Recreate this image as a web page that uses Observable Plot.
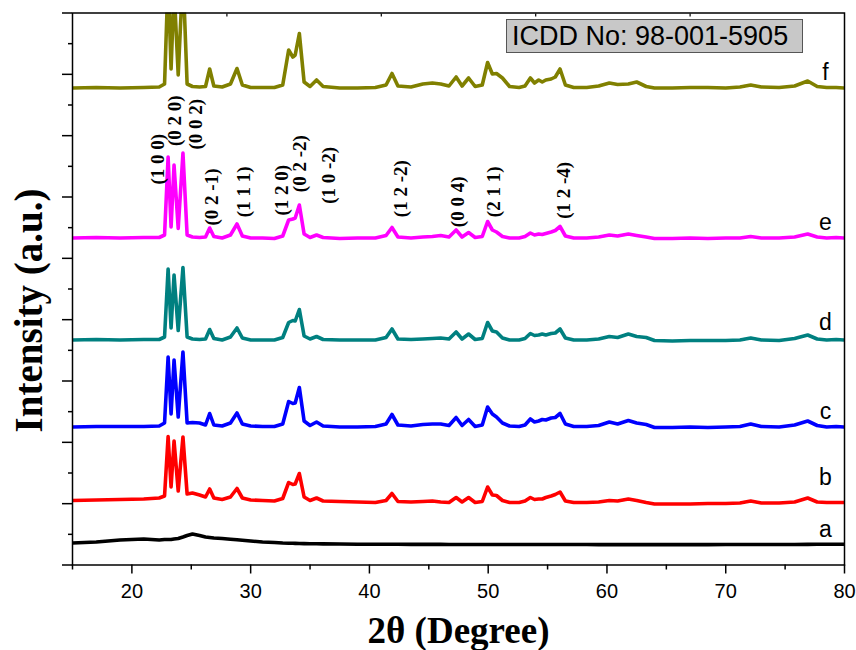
<!DOCTYPE html>
<html><head><meta charset="utf-8">
<script src="https://cdn.jsdelivr.net/npm/d3@7"></script>
<script src="https://cdn.jsdelivr.net/npm/@observablehq/plot@0.6"></script>
<style>
body{margin:0;background:#fff;}
#wrap{position:relative;width:856px;height:650px;}
#icdd{position:absolute;left:506px;top:19px;width:297px;height:34px;box-sizing:border-box;background:#c8c8c8;border:1px solid #555;font-family:"Liberation Sans",Arial,sans-serif;font-size:27px;line-height:32px;padding-left:5px;color:#000;white-space:nowrap;}
</style></head><body>
<div id="wrap"><div id="icdd">ICDD No: 98-001-5905</div></div>
<script>
// 2θ sampling positions (degrees)
const twoTheta = [15,17,19,21,22.3,22.75,23.05,23.3,23.55,23.9,
  24.3,24.65,25.1,25.7,26.2,26.55,26.9,27.6,28.3,28.85,
  29.3,30,31,32,32.7,33.2,33.55,33.75,34.1,34.5,
  35,35.55,36.1,37.5,39,40.5,41.4,41.9,42.4,43.5,
  44.5,45.3,46,46.7,47.3,47.8,48.35,48.9,49.5,49.95,
  50.35,50.7,51.2,51.8,52.6,53.1,53.55,53.9,54.25,54.55,
  54.85,55.3,55.65,56.05,56.5,57.2,58.3,59.3,60.2,60.9,
  61.8,62.5,63.3,64,65.5,67,68.5,70,71.2,72.1,
  73,74.5,75.8,76.9,77.7,78.5,79.3,80];

// Intensities (a.u.) above each pattern's own baseline
const seriesA = [0,1,3,4,3,3.5,3.5,3.5,4,4.5,
  6,7.5,9,7.5,6,5.5,5,4.5,3.8,3.2,
  2.8,2,1,0.5,0,-0.2,-0.3,-0.4,-0.5,-0.6,
  -0.7,-0.8,-0.9,-1,-1.2,-1.3,-1.3,-1.3,-1.3,-1.4,
  -1.4,-1.4,-1.4,-1.5,-1.5,-1.5,-1.5,-1.5,-1.5,-1.5,
  -1.5,-1.5,-1.5,-1.5,-1.5,-1.5,-1.5,-1.5,-1.5,-1.5,
  -1.5,-1.5,-1.5,-1.5,-1.5,-1.5,-1.5,-1.6,-1.6,-1.6,
  -1.6,-1.6,-1.6,-1.6,-1.6,-1.6,-1.6,-1.5,-1.5,-1.5,
  -1.5,-1.5,-1.5,-1.4,-1.3,-1.3,-1.2,-1.2];
const seriesB = [0.5,1,1.5,2,3,5,64.5,14,60,10,
  64,7,8,6,4,12,3,1.5,4,12.5,
  3,1,0.5,0,2.5,18.5,16.5,17,27.5,4,
  0.5,3,0,-0.5,-1,-1.5,0.5,7.5,-0.5,-1,
  -0.5,0,-1,-1.5,3.5,-1,3.5,-1.5,-0.5,14,
  6,5.5,0.5,-1.5,-1.5,0,3.5,1.5,2,2,
  3.5,5,6.5,9,0,-1.5,-1.5,-1,0.5,0,
  2,0.5,-1.5,-3,-3,-3,-2.5,-2.5,-2,0,
  -2,-2,-1,3,-1,-1.5,-1.5,-1.5];
const seriesC = [0,0.5,0.5,0.5,1,4,70,13,67,10,
  75,4,4.5,4,2,13.5,2,1,4,14,
  3,1,0.5,0.5,3,25.5,23.5,24,39.5,6,
  1.5,5,1,0,0,0.5,3,12.5,2,1,
  2.5,3,3,1.5,9.5,1.5,7.5,0.5,2,20,
  13,10,4,1,0.5,2,8,5,6,7.5,
  7,9,9.5,13.5,3,0.5,0.5,1.5,5,3,
  6.5,4,2.5,-0.5,-0.5,0,-0.5,0,0.5,3,
  0.5,0,2,6,1.5,0,0.5,0];
const seriesD = [0,0.5,0,0.5,0.5,3,71,12,65,9.5,
  72.5,3,1,0.5,1,10.5,1.5,0,3,12,
  2,0,0,0,2.5,17.5,19.5,19,30.5,4,
  1,3.5,0.5,0,0,0,2.5,11,1,0.5,
  1,1.5,2,1,8,1,6,0.5,1.5,17.5,
  9,8,2,0,0,1.5,6.5,4.5,5,6,
  5,6.5,7,11,2,0,0,1,3.5,2.5,
  6,3.5,2.5,-0.5,-1,-0.5,-0.5,-0.5,0,2,
  0,-0.5,1.5,5,1,0,0.5,0];
const seriesE = [0,0.5,0,0.5,0.5,3,81,11,73,9.5,
  85,3,1,0.5,1,10,1.5,0,3,14,
  2,0,0,-0.5,2,18,19,20,33,4,
  0.5,3,0.5,-0.5,0,0,2.5,10.5,1,0,
  1,1.5,2.5,1,8,1,5.5,0.5,1.5,16.5,
  8,6,1.5,0,0,1.5,5,3,4,3.5,
  4.5,6,7.5,11.5,2,0,0,1,3,2,
  4,2.5,1,-0.5,-0.5,0,-0.5,0,0,1.5,
  0,0,1,4,1,0,0.5,0];
const seriesF = [0,0.5,0,0.5,1,4,110,19,100,13,
  115,4,1.5,1,1.5,19,2,1,4,19.5,
  3,0.5,0.5,0.5,3,38,31,33,54.5,6,
  1.5,8,1.5,0,0,0.5,3,14.5,2,1,
  4,5,4,2,11,2,10,1.5,3,25.5,
  14,14.5,10,1.5,0.5,2,10,5,8,6,
  8,9,11,19,3,0.5,0.5,2,5,3.5,
  4,6,1.5,0,0,0.5,0.5,0,1,3,
  1,0.5,2,7,1.5,0.5,0.5,0];

const seriesNames = ["a","b","c","d","e","f"];
const seriesValues = [seriesA, seriesB, seriesC, seriesD, seriesE, seriesF];
const seriesOffsets = [22, 64, 138, 225, 327, 477];   // vertical stacking offsets (a.u.)
const seriesLabelY = [35.2, 87.2, 153.5, 242.8, 342.8, 492.5];
const seriesColors = ["#000000","#ff0000","#0000ff","#008080","#ff00ff","#808000"];

// Miller-index annotations (pattern e)
const hklText = ["(1 0 0)","(0 2 0)","(0 0 2)","(0 2 -1)","(1 1 1)","(1 2 0)","(0 2 -2)","(1 0 -2)","(1 2 -2)","(0 0 4)","(2 1 1)","(1 2 -4)"];
const hklX = [22.23,23.61,25.38,26.70,29.39,32.62,34.16,36.60,42.61,47.42,50.45,56.39];
const hklY = [380.5,419,415.5,339.5,347.8,349.5,372.8,361.2,347.8,337.8,347.8,346.2];

const xMajor = [20,30,40,50,60,70,80];
const xMinor = [15,25,35,45,55,65,75];
const xTop = [28,41,54,67];
const yMax = 552;
const yMajor = d3.range(10).map(i => i * yMax / 9);
const yMinor = d3.range(9).map(i => (i + 0.5) * yMax / 9);

const rows = [];
seriesNames.forEach((s, i) => {
  twoTheta.forEach((t, j) => rows.push({s, t, v: seriesValues[i][j] + seriesOffsets[i]}));
});
const labelRows = seriesNames.map((s, i) => ({s, x: 78.4, y: seriesLabelY[i]}));
const hklRows = hklText.map((txt, i) => ({txt, x: hklX[i], y: hklY[i]}));

const sans = "'Liberation Sans', Arial, sans-serif";
const serif = "'Liberation Serif', 'Times New Roman', serif";
const blank = () => "";

const plot = Plot.plot({
  width: 856, height: 650,
  marginLeft: 72, marginRight: 12, marginTop: 12.5, marginBottom: 85.5,
  x: {domain: [15, 80]},
  y: {domain: [0, yMax]},
  color: {domain: seriesNames, range: seriesColors},
  style: {background: "white", fontFamily: sans, color: "black"},
  marks: [
    Plot.axisX(xMajor, {tickSize: 9, tickPadding: 10, fontSize: 20, strokeWidth: 1.5, label: null, fontFamily: sans}),
    Plot.axisX(xMinor, {tickSize: 5, tickFormat: blank, strokeWidth: 1.5, label: null}),
    Plot.axisX(xTop, {anchor: "top", tickSize: -3, tickFormat: blank, strokeWidth: 1.2, label: null}),
    Plot.axisY(yMajor, {tickSize: 10, tickFormat: blank, strokeWidth: 1.5, label: null}),
    Plot.axisY(yMinor, {tickSize: 4, tickFormat: blank, strokeWidth: 1.5, label: null}),
    Plot.line(rows, {x: "t", y: "v", z: "s", stroke: "s", strokeWidth: 3.6, strokeLinejoin: "round", clip: true}),
    Plot.frame({stroke: "black", strokeWidth: 1.5}),
    Plot.text(labelRows, {x: "x", y: "y", text: "s", fontSize: 23, fontFamily: sans, fill: "black"}),
    Plot.text(hklRows, {x: "x", y: "y", text: "txt", rotate: -90, textAnchor: "start", lineAnchor: "middle", fontSize: 19, fontWeight: "bold", fontFamily: serif, fill: "black"}),
    Plot.text(["2θ (Degree)"], {frameAnchor: "bottom", dy: 78, lineAnchor: "bottom", fontSize: 37, fontWeight: "bold", fontFamily: serif, fill: "black"}),
    Plot.text(["Intensity (a.u.)"], {frameAnchor: "left", textAnchor: "middle", dx: -43, dy: 21.5, rotate: -90, lineAnchor: "middle", fontSize: 39, fontWeight: "bold", fontFamily: serif, fill: "black"})
  ]
});
const wrap = document.getElementById("wrap");
wrap.insertBefore(plot, document.getElementById("icdd"));
</script>
</body></html>
